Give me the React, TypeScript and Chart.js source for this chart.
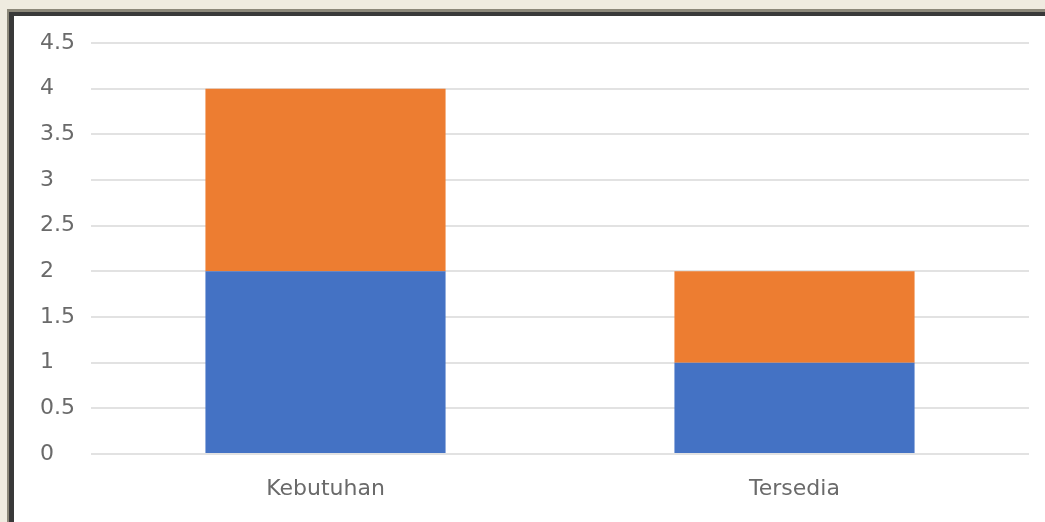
import React, { useEffect, useRef } from "react";
import { Chart, registerables } from "chart.js";

Chart.register(...registerables);

const categories = ["Kebutuhan", "Tersedia"];
const seriesBlue = [2, 1];
const seriesOrange = [2, 1];
const yMin = 0;
const yMax = 4.5;
const yStep = 0.5;

export default function App() {
  const canvasRef = useRef<HTMLCanvasElement | null>(null);

  useEffect(() => {
    document.body.style.margin = "0";
    const canvas = canvasRef.current;
    if (!canvas) return;
    const chart = new Chart(canvas, {
      type: "bar",
      data: {
        labels: categories,
        datasets: [
          {
            label: "Series 1",
            data: seriesBlue,
            backgroundColor: "#4472c4",
            borderWidth: 0,
            barPercentage: 0.512,
            categoryPercentage: 1,
          },
          {
            label: "Series 2",
            data: seriesOrange,
            backgroundColor: "#ed7d31",
            borderWidth: 0,
            barPercentage: 0.512,
            categoryPercentage: 1,
          },
        ],
      },
      options: {
        animation: false,
        responsive: false,
        maintainAspectRatio: false,
        layout: { padding: { left: 26, top: 27, right: 16, bottom: 0 } },
        plugins: {
          legend: { display: false },
          tooltip: { enabled: false },
          title: { display: false },
        },
        scales: {
          x: {
            stacked: true,
            grid: { display: false, drawTicks: false },
            border: { display: false },
            ticks: {
              padding: 22,
              color: "#6a6a6a",
              font: { family: "DejaVu Sans", size: 22 },
              maxRotation: 0,
            },
            afterFit: (scale: any) => {
              scale.height = 68;
            },
          },
          y: {
            stacked: true,
            min: yMin,
            max: yMax,
            grid: { color: "#e2e2e2", lineWidth: 2, drawTicks: false },
            border: { display: false },
            ticks: {
              stepSize: yStep,
              crossAlign: "far",
              padding: 0,
              color: "#6a6a6a",
              font: { family: "DejaVu Sans", size: 22 },
              callback: (value: any) => String(value),
            },
            afterFit: (scale: any) => {
              scale.width = 51;
            },
          },
        },
      },
    });
    return () => chart.destroy();
  }, []);

  return (
    <div
      style={{
        position: "absolute",
        left: 0,
        top: 0,
        width: 1045,
        height: 522,
        background: "#efebe0",
        overflow: "hidden",
      }}
    >
      <div style={{ position: "absolute", left: 7, top: 9, right: 0, bottom: 0, background: "#8c887a" }} />
      <div style={{ position: "absolute", left: 9, top: 12, right: 0, bottom: 0, background: "#393939" }} />
      <div style={{ position: "absolute", left: 14, top: 16, right: 0, bottom: 0, background: "#ffffff" }} />
      <canvas
        ref={canvasRef}
        width={1031}
        height={506}
        style={{ position: "absolute", left: 14, top: 16, width: 1031, height: 506 }}
      />
    </div>
  );
}
